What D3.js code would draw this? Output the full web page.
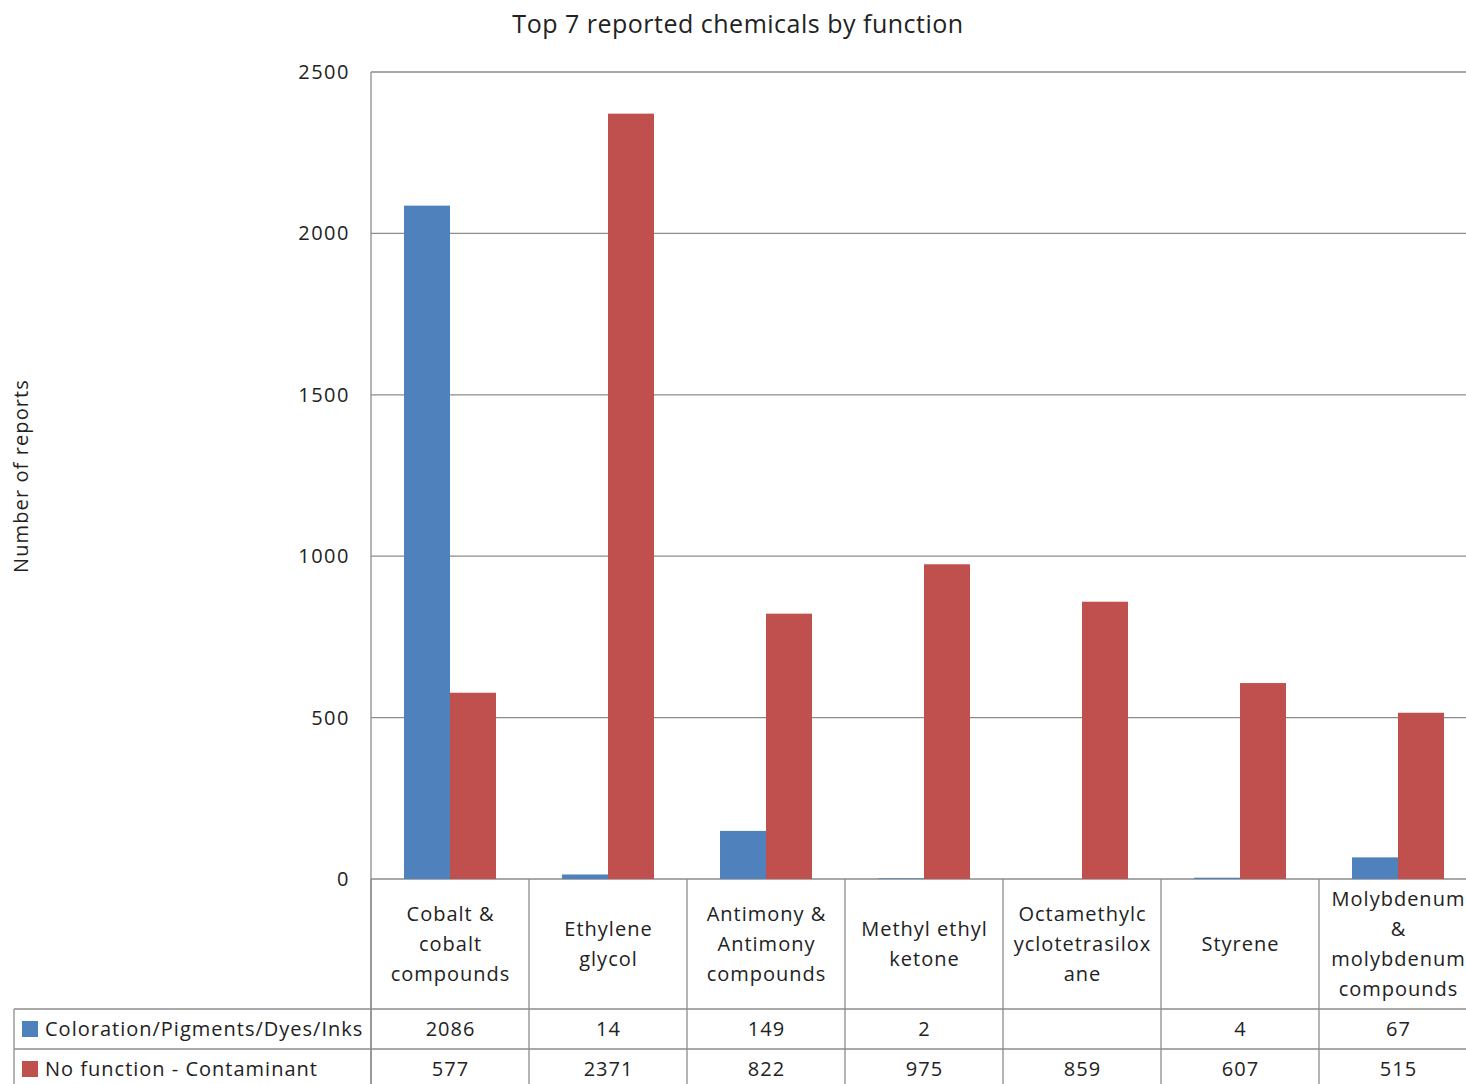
<!DOCTYPE html>
<html><head><meta charset="utf-8">
<script src="https://cdn.jsdelivr.net/npm/d3@7/dist/d3.min.js"></script>
<style>body{margin:0;background:#fff;}svg{display:block;}</style>
</head><body>
<svg id="c" width="1466" height="1084"></svg>
<script>
const categories = [
  ["Cobalt &","cobalt","compounds"],
  ["Ethylene","glycol"],
  ["Antimony &","Antimony","compounds"],
  ["Methyl ethyl","ketone"],
  ["Octamethylc","yclotetrasilox","ane"],
  ["Styrene"],
  ["Molybdenum","&","molybdenum","compounds"]
];
const seriesNames = ["Coloration/Pigments/Dyes/Inks","No function - Contaminant"];
const coloration = [2086, 14, 149, 2, null, 4, 67];
const contaminant = [577, 2371, 822, 975, 859, 607, 515];
const yTicks = [0, 500, 1000, 1500, 2000, 2500];
const colors = ["#4F81BD","#C0504D"];

(function(){
const font = "'Open Sans', Lato, sans-serif";
const fs = 20, ls = 1;
const svg = d3.select("#c");
const pL = 371, pT = 72, pB = 879, colW = 158;
const pR = pL + colW*7;
const x = d3.scaleBand().domain(d3.range(7)).range([pL, pR]).paddingInner(0).paddingOuter(0);
const y = d3.scaleLinear().domain([0,2500]).range([pB, pT]);
const x1 = d3.scaleBand().domain([0,1]).range([0, x.bandwidth()]).paddingOuter(0.717).paddingInner(0);
const grid = "#8c8c8c";

svg.append("g").selectAll("line").data(yTicks).join("line")
  .attr("x1", pL).attr("x2", pR).attr("y1", d=>y(d)).attr("y2", d=>y(d))
  .attr("stroke", grid).attr("stroke-width", 1.3);
svg.append("g").selectAll("text").data(yTicks).join("text")
  .attr("x", 350).attr("y", d=>y(d)).attr("dy","0.35em").attr("text-anchor","end")
  .attr("font-family", font).attr("font-size", fs).attr("letter-spacing", 1.5).attr("fill","#222").text(d=>d);

const series = [coloration, contaminant];
series.forEach((vals, si) => {
  svg.append("g").selectAll("rect").data(vals.map((v,i)=>({v,i})).filter(d=>d.v!=null)).join("rect")
    .attr("x", d=>x(d.i)+x1(si)).attr("width", x1.bandwidth())
    .attr("y", d=>y(d.v)).attr("height", d=>Math.max(0, y(0)-y(d.v)))
    .attr("fill", colors[si]);
});

svg.append("line").attr("x1", pL).attr("x2", pL).attr("y1", pT).attr("y2", 1084).attr("stroke", grid).attr("stroke-width",1.3);

const r0 = pB, r1 = 1009, r2 = 1049, r3 = 1089, tLeft = 14;
d3.range(8).forEach(i => {
  svg.append("line").attr("x1", pL + i*colW).attr("x2", pL + i*colW).attr("y1", r0).attr("y2", r3)
    .attr("stroke", grid).attr("stroke-width",1.3);
});
[r1, r2, r3].forEach(ry => svg.append("line").attr("x1", tLeft).attr("x2", pR).attr("y1", ry).attr("y2", ry).attr("stroke", grid).attr("stroke-width",1.3));
svg.append("line").attr("x1", tLeft).attr("x2", tLeft).attr("y1", r1).attr("y2", r3).attr("stroke", grid).attr("stroke-width",1.3);

const lh = 30;
categories.forEach((lines, i) => {
  const cx = x(i) + x.bandwidth()/2 + ls/2;
  const cy = (r0 + r1)/2;
  const startY = cy - (lines.length-1)*lh/2;
  const t = svg.append("text").attr("text-anchor","middle").attr("font-family", font).attr("font-size", fs)
    .attr("letter-spacing", ls).attr("fill","#222");
  lines.forEach((l, k) => t.append("tspan").attr("x", cx).attr("y", startY + k*lh).attr("dy","0.35em").text(l));
});

[[r1,r2],[r2,r3]].forEach(([a,b], si) => {
  const cy = (a + b)/2;
  svg.append("rect").attr("x", 22).attr("y", cy-8).attr("width", 16).attr("height", 16).attr("fill", colors[si]);
  svg.append("text").attr("x", 45).attr("y", cy).attr("dy","0.35em").attr("font-family", font).attr("font-size", fs)
    .attr("letter-spacing", ls).attr("fill","#222").text(seriesNames[si]);
  series[si].forEach((v, i) => {
    if (v == null) return;
    svg.append("text").attr("x", x(i)+x.bandwidth()/2 + ls/2).attr("y", cy).attr("dy","0.35em").attr("text-anchor","middle")
      .attr("font-family", font).attr("font-size", fs).attr("letter-spacing", ls).attr("fill","#222").text(v);
  });
});

svg.append("text").attr("x", 738).attr("y", 24).attr("dy","0.35em").attr("text-anchor","middle")
  .attr("font-family", font).attr("font-size", 25).attr("letter-spacing", 0.5).attr("fill","#222").text("Top 7 reported chemicals by function");
svg.append("text").attr("transform","translate(21,476) rotate(-90)").attr("dy","0.35em").attr("text-anchor","middle")
  .attr("font-family", font).attr("font-size", 20).attr("letter-spacing", 1.1).attr("fill","#222").text("Number of reports");
})();
</script>
</body></html>
